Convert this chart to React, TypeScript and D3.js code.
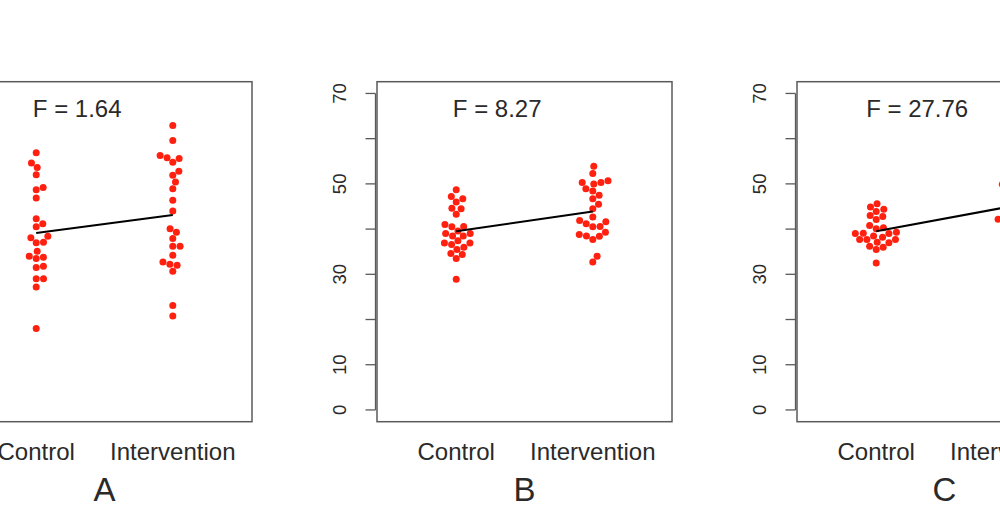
import React from "react";
import * as d3 from "d3";

// ---- data ----
const categories = ["Control", "Intervention"];
const panelLetters = ["A", "B", "C"];
const fLabels = ["F = 1.64", "F = 8.27", "F = 27.76"];

const controlA = [56.9, 54.6, 53.6, 52.0, 49.2, 48.7, 46.9, 42.3, 41.2, 40.5, 38.4, 38.1, 37.0, 37.1, 35.1, 34.0, 33.5, 33.8, 31.5, 31.8, 29.0, 29.0, 27.2, 18.0];
const interventionA = [62.9, 59.6, 56.3, 55.8, 55.6, 54.8, 52.8, 51.9, 50.4, 48.9, 46.4, 44.0, 40.1, 39.3, 37.9, 36.2, 36.2, 34.2, 32.7, 32.2, 32.0, 30.7, 23.1, 20.8];

const controlB = [48.7, 47.2, 46.7, 46.0, 44.6, 44.5, 43.3, 41.0, 40.5, 40.6, 39.0, 38.5, 39.6, 38.5, 39.0, 36.9, 36.6, 37.4, 36.0, 36.9, 34.6, 35.5, 34.4, 33.5, 28.9];
const interventionB = [53.9, 52.3, 50.7, 50.0, 50.3, 50.3, 48.9, 48.4, 47.5, 46.7, 45.5, 44.5, 41.6, 42.7, 41.9, 41.2, 40.5, 40.6, 39.3, 38.8, 38.5, 37.7, 38.4, 34.0, 32.7];

const controlC = [45.6, 44.9, 44.4, 43.9, 43.0, 42.8, 42.1, 40.8, 40.3, 40.1, 39.3, 39.0, 39.0, 39.1, 38.5, 37.7, 37.1, 37.7, 38.2, 37.7, 36.2, 37.0, 36.0, 35.5, 32.5];
const interventionC = [53.2, 51.6, 50.6, 50.2, 49.9, 49.7, 49.3, 48.4, 47.4, 46.8, 46.0, 45.3, 44.6, 43.9, 43.1, 42.8, 42.5, 42.2, 42.0, 41.6, 41.0, 40.2, 39.4, 38.6, 37.2];

const panelData = [
  [controlA, interventionA],
  [controlB, interventionB],
  [controlC, interventionC],
];

const yTicks = [0, 10, 20, 30, 40, 50, 60, 70];
const yTickLabels = [0, 10, 30, 50, 70];

// ---- layout ----
const W = 1000;
const H = 525;
const panelLefts = [-43, 377, 797];
const boxW = 295;
const boxTop = 81.7;
const boxBottom = 421.7;
const dotR = 3.5;
const spacing = 7.3;

const x = d3.scaleLinear().domain([0.42, 2.58]).range([0, boxW]);
const y = d3.scaleLinear().domain([-2.6, 72.6]).range([boxBottom, boxTop]);

function swarm(vals: number[]): number[] {
  const order = vals.map((_, i) => i).sort((a, b) => vals[a] - vals[b]);
  const placed: { x: number; y: number }[] = [];
  const out = new Array(vals.length).fill(0);
  for (const i of order) {
    const py = y(vals[i]);
    const neigh = placed.filter((p) => Math.abs(p.y - py) < spacing);
    const cands = [0];
    for (const n of neigh) {
      const dx = Math.sqrt(spacing * spacing - (n.y - py) ** 2);
      cands.push(n.x + dx, n.x - dx);
    }
    cands.sort((a, b) => Math.abs(a) - Math.abs(b));
    let chosen = 0;
    for (const c of cands) {
      const ok = neigh.every((n) => Math.hypot(n.x - c, n.y - py) >= spacing - 1e-6);
      if (ok) {
        chosen = c;
        break;
      }
    }
    placed.push({ x: chosen, y: py });
    out[i] = chosen;
  }
  return out;
}

const textColor = "#2a2a2a";
const boxColor = "#5a5a5a";
const font = "'Liberation Sans', Arial, Helvetica, sans-serif";

function Panel({ idx }: { idx: number }) {
  const left = panelLefts[idx];
  const groups = panelData[idx];
  const means = groups.map((g) => d3.mean(g) as number);
  const axisX = -1.5;
  const labelX = axisX - 29.5;
  const showYLabels = left + labelX - 10 > 0;
  return (
    <g transform={`translate(${left},0)`}>
      {/* box */}
      <rect x={0} y={boxTop} width={boxW} height={boxBottom - boxTop} fill="none" stroke={boxColor} strokeWidth={1.5} />
      {/* y axis */}
      <line x1={axisX} x2={axisX} y1={y(0)} y2={y(70)} stroke={boxColor} strokeWidth={1.3} />
      {yTicks.map((t) => (
        <line key={t} x1={axisX - 10} x2={axisX} y1={y(t)} y2={y(t)} stroke={boxColor} strokeWidth={1.3} />
      ))}
      {showYLabels &&
        yTickLabels.map((t) => (
          <text
            key={t}
            transform={`translate(${labelX},${y(t)}) rotate(-90)`}
            textAnchor="middle"
            fontFamily={font}
            fontSize={18.5}
            fill={textColor}
          >
            {t}
          </text>
        ))}
      {/* dots */}
      {groups.map((g, gi) => {
        const offs = swarm(g);
        return g.map((v, i) => (
          <circle key={`${gi}-${i}`} cx={x(gi + 1) + offs[i]} cy={y(v)} r={dotR} fill="#ff2010" />
        ));
      })}
      {/* mean line */}
      <line x1={x(1)} y1={y(means[0])} x2={x(2)} y2={y(means[1])} stroke="#000" strokeWidth={2} />
      {/* F label */}
      <text x={x(1.3)} y={116.7} textAnchor="middle" fontFamily={font} fontSize={24} fill={textColor}>
        {fLabels[idx]}
      </text>
      {/* category labels */}
      {categories.map((c, i) => (
        <text key={c} x={x(i + 1)} y={460} textAnchor="middle" fontFamily={font} fontSize={24} fill={textColor}>
          {c}
        </text>
      ))}
      {/* panel letter */}
      <text x={boxW / 2} y={500.7} textAnchor="middle" fontFamily={font} fontSize={33} fill={textColor}>
        {panelLetters[idx]}
      </text>
    </g>
  );
}

export default function App() {
  return (
    <svg width={W} height={H} style={{ position: "absolute", left: 0, top: 0, background: "#fff" }}>
      <rect x={0} y={0} width={W} height={H} fill="#fff" />
      {panelLefts.map((_, i) => (
        <Panel key={i} idx={i} />
      ))}
    </svg>
  );
}
